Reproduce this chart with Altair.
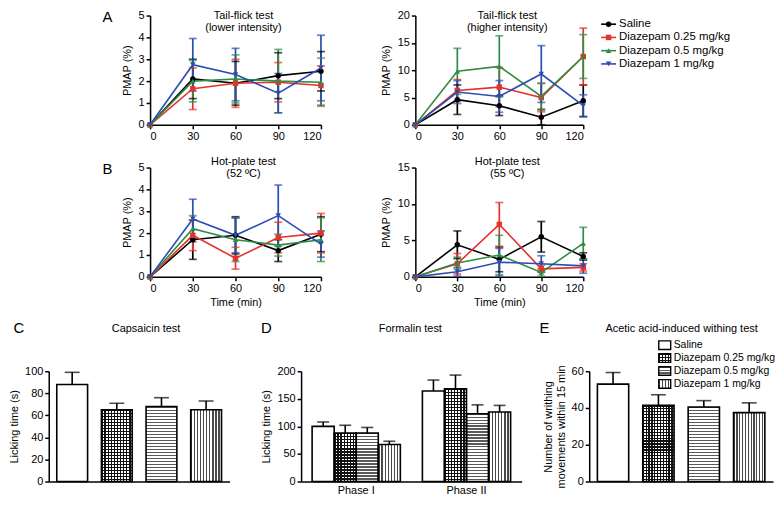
import altair as alt
import pandas as pd

FONT = "Liberation Sans"

times = [0, 30, 60, 90, 120]
groups = ["Saline", "Diazepam 0.25 mg/kg", "Diazepam 0.5 mg/kg", "Diazepam 1 mg/kg"]
colors = ["#000000", "#e6322b", "#2e8c44", "#2a4db5"]
shapes = ["circle", "square", "triangle-up", "triangle-down"]

# Panel A, tail-flick (lower intensity): means and SEM per group
a1_means = [[0, 2.1, 1.9, 2.25, 2.45], [0, 1.65, 1.9, 1.95, 1.8],
            [0, 2.0, 2.1, 2.0, 1.95], [0, 2.75, 2.3, 1.45, 2.6]]
a1_errs = [[0, 0.9, 1.0, 1.05, 0.9], [0, 0.95, 1.1, 0.9, 0.9],
           [0, 0.95, 1.1, 1.45, 1.1], [0, 1.2, 1.2, 0.9, 1.5]]
# Panel A, tail-flick (higher intensity)
a2_means = [[0, 4.6, 3.5, 1.4, 4.4], [0, 6.3, 6.9, 5.0, 12.5],
            [0, 9.8, 10.7, 5.2, 12.5], [0, 6.0, 5.2, 9.3, 3.5]]
a2_errs = [[0, 2.7, 1.8, 1.4, 2.9], [0, 2.0, 3.6, 2.6, 5.2],
           [0, 4.2, 5.6, 2.4, 4.0], [0, 2.1, 2.9, 5.2, 2.0]]
# Panel B, hot plate 52 C
b1_means = [[0, 1.7, 1.9, 1.2, 1.95], [0, 1.9, 0.85, 1.8, 2.0],
            [0, 2.2, 1.7, 1.45, 1.7], [0, 2.65, 1.9, 2.8, 1.5]]
b1_errs = [[0, 0.9, 0.85, 0.5, 0.8], [0, 0.7, 0.5, 0.7, 0.9],
           [0, 0.6, 1.0, 0.5, 1.0], [0, 0.9, 0.8, 1.4, 0.6]]
# Panel B, hot plate 55 C
b2_means = [[0, 4.4, 2.4, 5.5, 2.8], [0, 1.8, 7.2, 1.1, 1.3],
            [0, 1.9, 3.0, 0.6, 4.6], [0, 0.7, 2.0, 1.8, 1.5]]
b2_errs = [[0, 1.9, 1.7, 2.1, 0.5], [0, 1.4, 3.0, 0.5, 0.5],
           [0, 0.8, 2.7, 0.5, 2.2], [0, 0.6, 1.9, 1.1, 1.0]]

# Panel C, capsaicin
c_means = [88, 65, 68, 65]
c_errs = [11, 6, 8, 8]
# Panel D, formalin
phases = ["Phase I", "Phase II"]
d_phase1 = [100, 88, 88, 67]
d_phase1_err = [8, 14, 10, 6]
d_phase2 = [164, 168, 123, 126]
d_phase2_err = [20, 25, 16, 12]
# Panel E, acetic acid
e_means = [53, 41.5, 40.5, 37.5]
e_errs = [6.3, 5.7, 3.5, 5.3]

H1, H2, H3 = 110, 110, 111


def one():
    return pd.DataFrame({"k": [0]})


def long_df(means, errs):
    rows = []
    for g, m, e in zip(groups, means, errs):
        for t, v, s in zip(times, m, e):
            rows.append({"group": g, "time": t, "mean": v,
                         "lo": max(v - s, 0), "hi": v + s})
    return pd.DataFrame(rows)


def stripes(n, frac, dark, light, vertical):
    stops = []
    for k in range(n):
        a = k / n
        b = (k + frac) / n
        c = (k + 1) / n
        stops += [alt.GradientStop(offset=a, color=dark),
                  alt.GradientStop(offset=b, color=dark),
                  alt.GradientStop(offset=b, color=light),
                  alt.GradientStop(offset=c, color=light)]
    if vertical:
        return alt.LinearGradient(gradient="linear", stops=stops, x1=0, x2=1, y1=0, y2=0)
    return alt.LinearGradient(gradient="linear", stops=stops, x1=0, x2=0, y1=0, y2=1)


def label(text, dx, dy, size=15):
    return alt.Chart(one()).mark_text(text=text, fontSize=size, font=FONT, align="center",
                                      baseline="middle").encode(x=alt.value(dx), y=alt.value(dy))


def spacer(w, h):
    return alt.Chart(one()).mark_point(opacity=0, size=1).encode(
        x=alt.value(0), y=alt.value(0)).properties(width=w, height=h)


color_enc = alt.Color("group:N", scale=alt.Scale(domain=groups, range=colors), legend=None)
shape_enc = alt.Shape("group:N", scale=alt.Scale(domain=groups, range=shapes), legend=None)


def line_panel(means, errs, ymax, ystep, w, h, title_lines, title_y, letter, xtitle=None, legend=False):
    df = long_df(means, errs)
    base = alt.Chart(df)
    xax = alt.Axis(values=times, title=xtitle, titlePadding=3)
    X = alt.X("time:Q", scale=alt.Scale(domain=[0, 120], nice=False), axis=xax)
    yax = alt.Axis(values=list(range(0, ymax + 1, ystep)), title="PMAP (%)", titlePadding=6)

    def Y(f):
        return alt.Y(f, scale=alt.Scale(domain=[0, ymax], nice=False), axis=yax)

    errb = base.transform_filter("datum.time > 0")
    err = errb.mark_rule(strokeWidth=1.7).encode(x=X, y=Y("lo:Q"), y2="hi:Q", color=color_enc)
    cap1 = errb.mark_tick(orient="horizontal", size=8, thickness=1.7).encode(x=X, y=Y("hi:Q"), color=color_enc)
    cap2 = errb.mark_tick(orient="horizontal", size=8, thickness=1.7).encode(x=X, y=Y("lo:Q"), color=color_enc)
    line = base.mark_line(strokeWidth=1.6).encode(x=X, y=Y("mean:Q"), color=color_enc)
    pts = base.mark_point(filled=True, size=30, opacity=1).encode(
        x=X, y=Y("mean:Q"), color=color_enc, shape=shape_enc)
    title = alt.Chart(one()).mark_text(text=title_lines, fontSize=11, font=FONT, lineHeight=12.6,
                                       align="center", baseline="top").encode(
        x=alt.value(w / 2 + 8), y=alt.value(title_y))
    inner = alt.layer(err, cap1, cap2, line, pts)
    layers = [inner, title, label(letter, -43, 1)] if letter else [inner, title]
    if legend:
        ldf = pd.DataFrame({"group": groups, "lidx": [0, 1, 2, 3]})
        LY = alt.Y("lidx:Q", scale=alt.Scale(domain=[0, 3], range=[8.7, 48.7]), axis=None)
        lb = alt.Chart(ldf)
        layers += [
            lb.mark_rule(strokeWidth=1.6).encode(x=alt.value(w + 18), x2=alt.value(w + 33), y=LY, color=color_enc),
            lb.mark_point(filled=True, size=30, opacity=1).encode(x=alt.value(w + 25.5), y=LY,
                                                                  color=color_enc, shape=shape_enc),
            lb.mark_text(align="left", baseline="middle", fontSize=11.5, font=FONT).encode(
                x=alt.value(w + 36), y=LY, text="group:N"),
        ]
    return alt.layer(*layers).resolve_scale(y="independent").properties(width=w, height=h)


PI, PO = 0.31, 0.18
PERIOD = 3.0


def fill_layers(sub, g, X, Y, extra, bar_w, bar_h):
    out = []
    nv = max(1, round(bar_w / PERIOD))
    nh = max(1, round(bar_h / PERIOD))
    if g == groups[1]:
        out.append(sub.mark_bar(fill=stripes(nv, 0.45, "#111111", "#ffffff", True), strokeWidth=0).encode(x=X, y=Y("mean:Q"), **extra))
        out.append(sub.mark_bar(fill=stripes(nh, 0.45, "#111111", "rgba(255,255,255,0)", False), strokeWidth=0).encode(x=X, y=Y("mean:Q"), **extra))
    elif g == groups[2]:
        out.append(sub.mark_bar(fill=stripes(nh, 0.45, "#5a5a5a", "#ffffff", False), strokeWidth=0).encode(x=X, y=Y("mean:Q"), **extra))
    elif g == groups[3]:
        out.append(sub.mark_bar(fill=stripes(nv, 0.4, "#4a4a4a", "#ffffff", True), strokeWidth=0).encode(x=X, y=Y("mean:Q"), **extra))
    return out


def simple_bar_panel(means, errs, ymax, ystep, w, h, ytitle, title, title_dx, letter, letter_dx, legend=False):
    df = pd.DataFrame({"group": groups, "mean": means, "err": errs})
    df["top"] = df["mean"] + df["err"]
    X = alt.X("group:N", scale=alt.Scale(domain=groups, paddingInner=PI, paddingOuter=PO),
              axis=alt.Axis(labels=False, ticks=False, title=None))
    yax = alt.Axis(values=list(range(0, ymax + 1, ystep)), title=ytitle, titlePadding=5)

    def Y(f):
        return alt.Y(f, scale=alt.Scale(domain=[0, ymax], nice=False), axis=yax)

    step = w / (4 - PI + 2 * PO)
    bw = step * (1 - PI)
    layers = []
    for i, g in enumerate(groups):
        sub = alt.Chart(df[df["group"] == g])
        layers += fill_layers(sub, g, X, Y, {}, bw, means[i] / ymax * h)
    base = alt.Chart(df)
    layers.append(base.mark_bar(fill="transparent", stroke="black", strokeWidth=1.6).encode(x=X, y=Y("mean:Q")))
    layers.append(base.mark_rule(color="black", strokeWidth=1.6).encode(x=X, y=Y("mean:Q"), y2="top:Q"))
    layers.append(base.mark_tick(orient="horizontal", size=15, thickness=1.6, color="black").encode(x=X, y=Y("top:Q")))
    inner = alt.layer(*layers)
    extra = [
        alt.Chart(one()).mark_text(text=title, fontSize=11, font=FONT, align="center", baseline="middle").encode(
            x=alt.value(title_dx), y=alt.value(-42)),
        label(letter, letter_dx, -43),
    ]
    if legend:
        ldf = pd.DataFrame({"group": groups, "lidx": [0, 1, 2, 3]})
        LY = alt.Y("lidx:Q", scale=alt.Scale(domain=[0, 3], range=[-26.2, 12.8]), axis=None)
        sq = "M-1,-0.72H1V0.72H-1Z"
        for i, g in enumerate(groups):
            sub = alt.Chart(ldf[ldf["group"] == g])
            fills = []
            if g == groups[1]:
                fills = [stripes(4, 0.45, "#111111", "#ffffff", True), stripes(3, 0.45, "#111111", "rgba(255,255,255,0)", False)]
            elif g == groups[2]:
                fills = [stripes(3, 0.45, "#5a5a5a", "#ffffff", False)]
            elif g == groups[3]:
                fills = [stripes(4, 0.4, "#4a4a4a", "#ffffff", True)]
            for f in fills:
                extra.append(sub.mark_point(shape=sq, size=144, filled=True, fill=f, strokeWidth=0, opacity=1).encode(
                    x=alt.value(76), y=LY))
            extra.append(sub.mark_point(shape=sq, size=144, filled=False, fill="transparent", stroke="black",
                                        strokeWidth=1.4, opacity=1).encode(x=alt.value(76), y=LY))
        extra.append(alt.Chart(ldf).mark_text(align="left", baseline="middle", fontSize=10.5, font=FONT).encode(
            x=alt.value(85), y=LY, text="group:N"))
    return alt.layer(inner, *extra).resolve_scale(y="independent").properties(width=w, height=h)


def formalin_panel(w, h):
    rows = []
    for p, ms, es in [(phases[0], d_phase1, d_phase1_err), (phases[1], d_phase2, d_phase2_err)]:
        for g, m, e in zip(groups, ms, es):
            rows.append({"phase": p, "group": g, "mean": m, "top": m + e})
    df = pd.DataFrame(rows)
    X = alt.X("phase:N", scale=alt.Scale(domain=phases, paddingInner=0.2, paddingOuter=0.1),
              axis=alt.Axis(ticks=False, labelAngle=0, title=None, labelPadding=3))
    XO = alt.XOffset("group:N", scale=alt.Scale(domain=groups, paddingInner=0, paddingOuter=0))
    yax = alt.Axis(values=[0, 50, 100, 150, 200], title="Licking time (s)", titlePadding=5)

    def Y(f):
        return alt.Y(f, scale=alt.Scale(domain=[0, 200], nice=False), axis=yax)

    step = w / (2 - 0.2 + 0.2)
    bw = step * 0.8 / 4
    layers = []
    for _, r in df.iterrows():
        sub = alt.Chart(df[(df["phase"] == r["phase"]) & (df["group"] == r["group"])])
        layers += fill_layers(sub, r["group"], X, Y, {"xOffset": XO}, bw, r["mean"] / 200 * h)
    base = alt.Chart(df)
    layers.append(base.mark_bar(fill="transparent", stroke="black", strokeWidth=1.6).encode(x=X, xOffset=XO, y=Y("mean:Q")))
    layers.append(base.mark_rule(color="black", strokeWidth=1.6).encode(x=X, xOffset=XO, y=Y("mean:Q"), y2="top:Q"))
    layers.append(base.mark_tick(orient="horizontal", size=12, thickness=1.6, color="black").encode(x=X, xOffset=XO, y=Y("top:Q")))
    inner = alt.layer(*layers)
    t = alt.Chart(one()).mark_text(text="Formalin test", fontSize=11, font=FONT, align="center", baseline="middle").encode(
        x=alt.value(110), y=alt.value(-42))
    return alt.layer(inner, t, label("D", -35, -43)).properties(width=w, height=h)


A1 = line_panel(a1_means, a1_errs, 5, 1, 172, H1, ["Tail-flick test", "(lower intensity)"], -6, "A")
A2 = line_panel(a2_means, a2_errs, 20, 5, 169, H1, ["Tail-flick test", "(higher intensity)"], -6, None, legend=True)
B1 = line_panel(b1_means, b1_errs, 5, 1, 172, H2, ["Hot-plate test", "(52 \u00baC)"], -12, "B", xtitle="Time (min)")
B2 = line_panel(b2_means, b2_errs, 15, 5, 169, H2, ["Hot-plate test", "(55 \u00baC)"], -12, None, xtitle="Time (min)")
C = simple_bar_panel(c_means, c_errs, 100, 20, 182, H3, "Licking time (s)", "Capsaicin test", 98, "C", -30)
D = formalin_panel(222, H3)
E = simple_bar_panel(e_means, e_errs, 60, 20, 185, H3, ["Number of writhing", "movements within 15 min"],
                     "Acetic acid-induced withing test", 93, "E", -45, legend=True)

row1 = alt.HConcatChart(hconcat=[spacer(102, H1), A1, spacer(95, H1), A2], spacing=0, bounds="flush")
row2 = alt.HConcatChart(hconcat=[spacer(102, H2), B1, spacer(95, H2), B2], spacing=0, bounds="flush")
row3 = alt.HConcatChart(hconcat=[C, spacer(72, H3), D, spacer(68, H3), E], spacing=0, bounds="flush")

chart = alt.VConcatChart(vconcat=[row1, row2, row3], spacing=14).properties(
    padding=0
).configure_view(stroke=None).configure_axis(
    domainColor="black", domainWidth=1.5, tickColor="black", tickWidth=1.5, tickSize=4,
    labelFont=FONT, labelFontSize=11, labelColor="black", labelPadding=2,
    titleFont=FONT, titleFontSize=11, titleFontWeight="normal", titleColor="black", grid=False
).configure_text(font=FONT, color="black")

chart.save("out.html", embed_options={"renderer": "svg", "actions": False})
